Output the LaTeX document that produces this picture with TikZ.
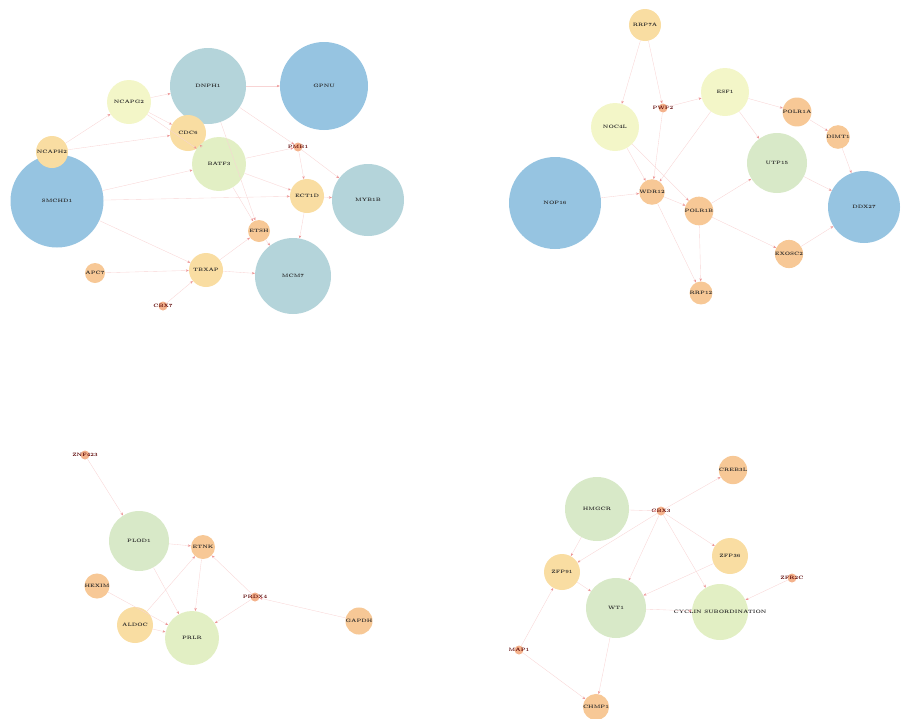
\documentclass[tikz,border=0pt]{standalone}
\usepackage{tikz}
\usetikzlibrary{arrows.meta}

\definecolor{bigblue}{RGB}{150,196,225}
\definecolor{greyteal}{RGB}{180,212,218}
\definecolor{paleyellow}{RGB}{243,246,200}
\definecolor{palegreen}{RGB}{216,233,200}
\definecolor{limegreen}{RGB}{226,239,196}
\definecolor{sand}{RGB}{249,221,162}
\definecolor{peach}{RGB}{247,200,150}
\definecolor{rust}{RGB}{244,178,140}
\definecolor{linkpink}{RGB}{248,212,212}
\definecolor{tippink}{RGB}{236,150,150}

\begin{document}
\begin{tikzpicture}[x=1pt,y=-1pt,
  genetext/.style={inner sep=0pt,text=black!85,
    font=\fontsize{4.8}{5}\selectfont\bfseries},
  gene/.style={circle,draw=none,genetext},
  tinygene/.style={circle,draw=none,fill=rust,minimum size=9pt,inner sep=0pt,
    label={[genetext,text=red!35!black]center:#1}},
  link/.style={draw=linkpink,line width=0.35pt,
    -{Stealth[length=3pt,width=2.4pt,color=tippink]}}]

\useasboundingbox (0,0) rectangle (904,718);

% top left
\node[gene,fill=bigblue,minimum size=93pt] (smchd) at (57,201) {SMCHD1};
\node[gene,fill=greyteal,minimum size=76pt] (dnph) at (208,86) {DNPH1};
\node[gene,fill=bigblue,minimum size=88pt] (gpnu) at (324,86) {GPNU};
\node[gene,fill=paleyellow,minimum size=44pt] (ncapg) at (129,102) {NCAPG2};
\node[gene,fill=sand,minimum size=32pt] (ncaph) at (52,152) {NCAPH2};
\node[gene,fill=sand,minimum size=36pt] (cdc) at (188,133) {CDC6};
\node[gene,fill=limegreen,minimum size=54pt] (batf) at (219,164) {BATF3};
\node[tinygene=PMB1] (pmb) at (298,147) {};
\node[gene,fill=sand,minimum size=34pt] (ect) at (307,196) {ECT1D};
\node[gene,fill=greyteal,minimum size=72pt] (myb) at (368,200) {MYB1B};
\node[gene,fill=peach,minimum size=22pt] (etsh) at (259,231) {ETSH};
\node[gene,fill=sand,minimum size=34pt] (tbx) at (206,270) {TBXAP};
\node[gene,fill=greyteal,minimum size=76pt] (mcm) at (293,276) {MCM7};
\node[gene,fill=peach,minimum size=20pt] (apc) at (95,273) {APC7};
\node[tinygene=CBX7] (cbx) at (163,306) {};

\draw[link] (ncaph) -- (ncapg);
\draw[link] (ncaph) -- (cdc);
\draw[link] (ncapg) -- (dnph);
\draw[link] (ncapg) -- (cdc);
\draw[link] (ncapg) -- (batf);
\draw[link] (dnph) -- (gpnu);
\draw[link] (dnph) -- (pmb);
\draw[link] (dnph) -- (etsh);
\draw[link] (cdc) -- (batf);
\draw[link] (batf) -- (pmb);
\draw[link] (batf) -- (ect);
\draw[link] (batf) -- (etsh);
\draw[link] (pmb) -- (ect);
\draw[link] (pmb) -- (myb);
\draw[link] (ect) -- (myb);
\draw[link] (ect) -- (mcm);
\draw[link] (smchd) -- (ect);
\draw[link] (smchd) -- (batf);
\draw[link] (smchd) -- (tbx);
\draw[link] (etsh) -- (mcm);
\draw[link] (tbx) -- (etsh);
\draw[link] (tbx) -- (mcm);
\draw[link] (apc) -- (tbx);
\draw[link] (cbx) -- (tbx);

% top right
\node[gene,fill=bigblue,minimum size=92pt] (nop) at (555,203) {NOP16};
\node[gene,fill=sand,minimum size=32pt] (rrp) at (645,25) {RRP7A};
\node[tinygene=PWP2] (pwp) at (663,108) {};
\node[gene,fill=paleyellow,minimum size=48pt] (noc) at (615,127) {NOC4L};
\node[gene,fill=paleyellow,minimum size=48pt] (esf) at (725,92) {ESF1};
\node[gene,fill=peach,minimum size=22pt] (polra) at (797,112) {POLR1A};
\node[gene,fill=peach,minimum size=20pt] (dimt) at (838,137) {DIMT1};
\node[gene,fill=palegreen,minimum size=60pt] (utp) at (777,163) {UTP15};
\node[gene,fill=bigblue,minimum size=72pt] (ddx) at (864,207) {DDX27};
\node[gene,fill=peach,minimum size=22pt] (wdr) at (652,192) {WDR12};
\node[gene,fill=peach,minimum size=20pt] (polrb) at (699,211) {POLR1B};
\node[gene,fill=peach,minimum size=20pt] (exo) at (789,254) {EXOSC2};
\node[gene,fill=peach,minimum size=20pt] (rrpb) at (701,293) {RRP12};

\draw[link] (rrp) -- (pwp);
\draw[link] (rrp) -- (noc);
\draw[link] (pwp) -- (esf);
\draw[link] (pwp) -- (wdr);
\draw[link] (noc) -- (wdr);
\draw[link] (noc) -- (polrb);
\draw[link] (esf) -- (polra);
\draw[link] (esf) -- (utp);
\draw[link] (esf) -- (wdr);
\draw[link] (polra) -- (dimt);
\draw[link] (dimt) -- (ddx);
\draw[link] (nop) -- (wdr);
\draw[link] (wdr) -- (polrb);
\draw[link] (wdr) -- (rrpb);
\draw[link] (polrb) -- (utp);
\draw[link] (polrb) -- (exo);
\draw[link] (polrb) -- (rrpb);
\draw[link] (utp) -- (ddx);
\draw[link] (exo) -- (ddx);

% bottom left
\node[tinygene=ZNF423] (znf) at (85,455) {};
\node[gene,fill=palegreen,minimum size=60pt] (plod) at (139,541) {PLOD1};
\node[gene,fill=peach,minimum size=24pt] (etnk) at (203,547) {ETNK};
\node[gene,fill=peach,minimum size=22pt] (hexim) at (97,586) {HEXIM};
\node[gene,fill=sand,minimum size=36pt] (aldoc) at (135,625) {ALDOC};
\node[gene,fill=limegreen,minimum size=54pt] (prlr) at (192,638) {PRLR};
\node[tinygene=PRDX4] (prdx) at (255,597) {};
\node[gene,fill=peach,minimum size=22pt] (gapdh) at (359,621) {GAPDH};

\draw[link] (znf) -- (plod);
\draw[link] (plod) -- (etnk);
\draw[link] (plod) -- (prlr);
\draw[link] (etnk) -- (prlr);
\draw[link] (aldoc) -- (etnk);
\draw[link] (aldoc) -- (prlr);
\draw[link] (hexim) -- (prlr);
\draw[link] (prdx) -- (etnk);
\draw[link] (prdx) -- (prlr);
\draw[link] (gapdh) -- (prdx);

% bottom right
\node[gene,fill=palegreen,minimum size=64pt] (hmg) at (597,509) {HMGCR};
\node[tinygene=CBX3] (cbxt) at (661,511) {};
\node[gene,fill=peach,minimum size=22pt] (creb) at (733,470) {CREB3L};
\node[gene,fill=sand,minimum size=36pt] (zfpa) at (562,572) {ZFP91};
\node[gene,fill=sand,minimum size=36pt] (zfpb) at (730,556) {ZFP36};
\node[tinygene=ZFR2C] (zfr) at (792,578) {};
\node[gene,fill=palegreen,minimum size=60pt] (wt) at (616,608) {WT1};
\node[gene,fill=limegreen,minimum size=56pt,
  label={[genetext]center:CYCLIN SUBORDINATION}] (cyc) at (720,612) {};
\node[tinygene=MAP1] (map) at (519,650) {};
\node[gene,fill=peach,minimum size=22pt] (chmp) at (596,707) {CHMP1};

\draw[link] (hmg) -- (cbxt);
\draw[link] (hmg) -- (zfpa);
\draw[link] (cbxt) -- (creb);
\draw[link] (cbxt) -- (zfpa);
\draw[link] (cbxt) -- (zfpb);
\draw[link] (cbxt) -- (wt);
\draw[link] (cbxt) -- (cyc);
\draw[link] (zfpa) -- (wt);
\draw[link] (zfpb) -- (wt);
\draw[link] (zfr) -- (cyc);
\draw[link] (wt) -- (cyc);
\draw[link] (wt) -- (chmp);
\draw[link] (map) -- (zfpa);
\draw[link] (map) -- (chmp);

\end{tikzpicture}
\end{document}
